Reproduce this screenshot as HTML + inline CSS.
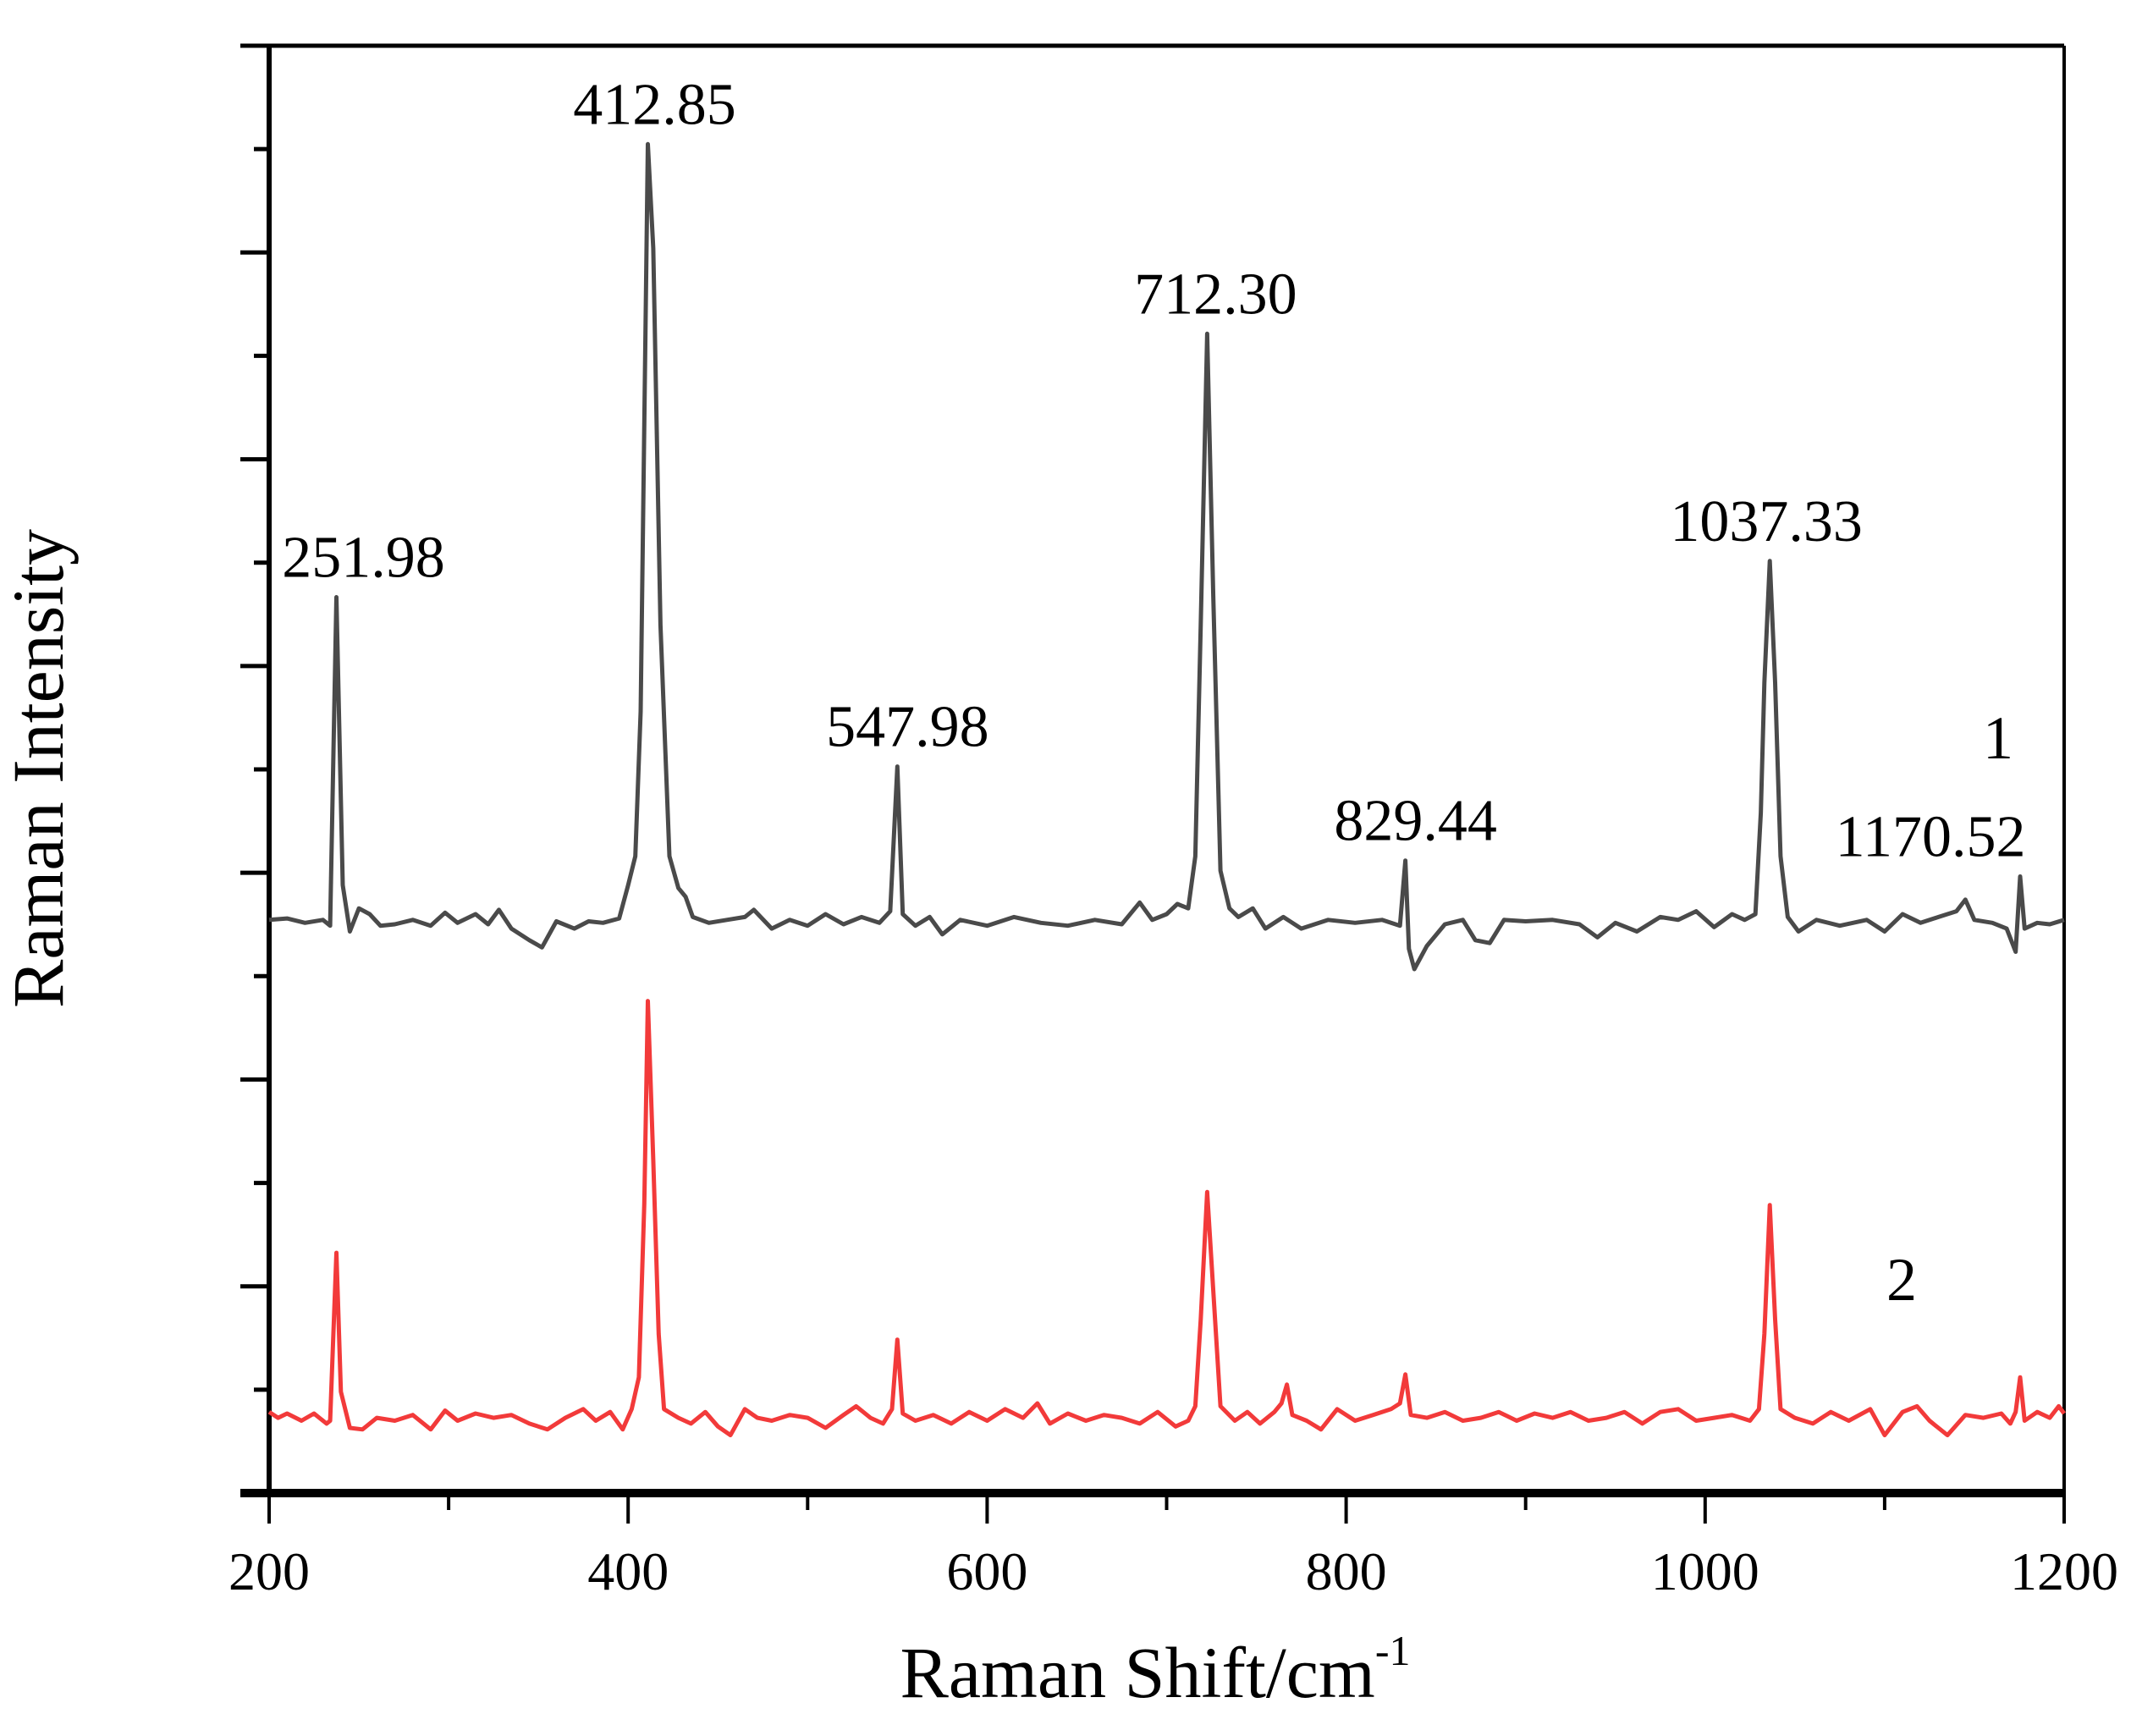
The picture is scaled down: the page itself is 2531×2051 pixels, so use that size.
<!DOCTYPE html>
<html><head><meta charset="utf-8"><style>
html,body{margin:0;padding:0;background:#fff;}
svg{display:block;}
text{font-family:"Liberation Serif",serif;fill:#000;}
</style></head><body>
<svg id="chart" width="2531" height="2051" viewBox="0 0 2531 2051" xmlns="http://www.w3.org/2000/svg">
<g id="axes"></g>
<g id="series"></g>
<g id="labels"></g>
<text x="1365" y="2005" font-size="86" text-anchor="middle">Raman Shift/cm<tspan font-size="50" dy="-38">-1</tspan></text>
<text transform="translate(74,908) rotate(-90)" font-size="86" text-anchor="middle">Raman Intensity</text>
</svg>
<script>
const xTicks=[200,400,600,800,1000,1200];
const xMinor=[300,500,700,900,1100];
const s1x=[200,210,220,230,234,237.5,241,245,250,256,262,270,280,290,298,305,315,322,328,335,345,352,360,370,378,386,395,400,404,407,411,414,418,423,428,432,436,445,455,465,470,480,490,500,510,520,530,540,546,550,553,560,568,575,585,600,615,630,645,660,675,685,692,700,706,712,716,719,722.6,726,730,735,740,748,755,765,775,790,805,820,830,833,835,838,845,855,865,872,880,888,900,915,930,940,950,962,975,985,995,1005,1015,1022,1028,1031,1033,1036,1039,1042,1046,1052,1062,1075,1090,1100,1110,1120,1130,1140,1145,1150,1160,1168,1173,1175.5,1178,1185,1192,1200];
const s1y=[396,397,394,396,392,619,420,388,404,400,392,393,396,392,401,394,400,393,403,390,382,377,395,390,395,394,397,420,440,540,932,860,600,440,418,412,398,394,396,398,403,390,396,392,400,393,398,394,402,502,400,392,398,386,396,392,398,394,392,396,393,408,396,400,407,404,440,600,801,620,430,404,398,404,390,398,390,396,394,396,392,437,376,362,378,393,396,382,380,396,395,396,393,384,394,388,398,396,402,391,400,396,400,470,560,644,560,440,398,388,396,392,396,388,400,394,398,402,410,396,394,390,374,426,390,394,393,396];
const s2x=[200,205,210,218,225,232,234,237.5,240,245,252,260,270,280,290,298,305,315,325,335,345,355,365,375,382,390,397,402,406,409,411,414,417,420,428,435,443,450,457,465,472,480,490,500,510,520,527,535,542,547,550,553,560,570,580,590,600,610,620,628,635,645,655,665,675,685,695,705,712,716,719,722.6,726,730,738,745,752,760,764,767,770,778,786,795,805,815,825,830,833,836,845,855,865,875,885,895,905,915,925,935,945,955,965,975,985,995,1005,1015,1025,1030,1033,1036,1039,1042,1050,1060,1070,1080,1092,1100,1110,1118,1125,1135,1145,1155,1165,1170,1173,1175.5,1178,1185,1192,1197,1200];
const s2y=[56,52,55,50,55,48,50,166,70,45,44,52,50,54,44,57,50,55,52,54,48,44,52,58,50,56,44,58,80,200,340,230,110,58,52,48,56,46,40,58,52,50,54,52,45,54,60,52,48,58,106,55,50,54,48,56,50,58,52,62,48,55,50,54,52,48,56,46,50,60,120,208,140,60,50,56,48,56,62,75,54,50,44,58,50,54,58,62,82,54,52,56,50,52,56,50,55,52,56,50,52,56,48,56,58,50,52,54,50,58,110,199,120,58,52,48,56,50,58,40,56,60,50,40,54,52,55,48,56,80,50,56,52,60,55];
const peakText=["251.98","412.85","547.98","712.30","829.44","1037.33","1170.52"];
const peakX=[237.5,411,550,722.6,833,1036,1175.5];
const peakY=[619,932,502,801,437,644,426];

const L=318,R=2439,T=54,B=1764;
const X=v=>L+(v-200)/1000*(R-L);
const Y=v=>B-v/1000*(B-T);
const NS="http://www.w3.org/2000/svg";
function mk(tag,attrs,parent){const e=document.createElementNS(NS,tag);for(const k in attrs)e.setAttribute(k,attrs[k]);parent.appendChild(e);return e;}
const ax=document.getElementById('axes');
let e;
e=mk('line',{x1:284,y1:T,x2:R,y2:T,stroke:'#000','stroke-width':5},ax);


e=mk('line',{x1:R,y1:T,x2:R,y2:B,stroke:'#000','stroke-width':4},ax);


e=mk('line',{x1:L,y1:T,x2:L,y2:B,stroke:'#000','stroke-width':6},ax);


e=mk('line',{x1:284,y1:B,x2:R,y2:B,stroke:'#000','stroke-width':10},ax);


for(let i=0;i<=14;i++){
  const y=T+i*(B-T)/14;
  const major=i%2===0;
  e=mk('line',{x1:major?284:300,y1:y,x2:L,y2:y,stroke:'#000','stroke-width':5},ax);
  
  
}
xTicks.forEach(v=>{
  e=mk('line',{x1:X(v),y1:B,x2:X(v),y2:B+36,stroke:'#000','stroke-width':4},ax);
  
  
  e=mk('text',{x:X(v),y:1878,'font-size':64,'text-anchor':'middle'},ax);
  e.textContent=v;
  
  
});
xMinor.forEach(v=>{
  e=mk('line',{x1:X(v),y1:B,x2:X(v),y2:B+20,stroke:'#000','stroke-width':4},ax);
  
  
});
const sg=document.getElementById('series');
function path(xs,ys){return xs.map((x,i)=>(i?'L':'M')+X(x).toFixed(1)+' '+Y(ys[i]).toFixed(1)).join(' ');}
e=mk('path',{d:path(s1x,s1y),fill:'none',stroke:'#4a4a4a','stroke-width':5,'stroke-linejoin':'round'},sg);


e=mk('path',{d:path(s2x,s2y),fill:'none',stroke:'#f23a3a','stroke-width':5,'stroke-linejoin':'round'},sg);


const lg=document.getElementById('labels');
const dx=[32,8,12,10,12,-4,-106];
peakText.forEach((t,i)=>{
  e=mk('text',{x:X(peakX[i])+dx[i],y:Y(peakY[i])-24,'font-size':70,'text-anchor':'middle'},lg);
  e.textContent=t;
  
  
});
e=mk('text',{x:2361,y:896,'font-size':72,'text-anchor':'middle'},lg);
e.textContent='1';


e=mk('text',{x:2247,y:1536,'font-size':72,'text-anchor':'middle'},lg);
e.textContent='2';


</script>
</body></html>
